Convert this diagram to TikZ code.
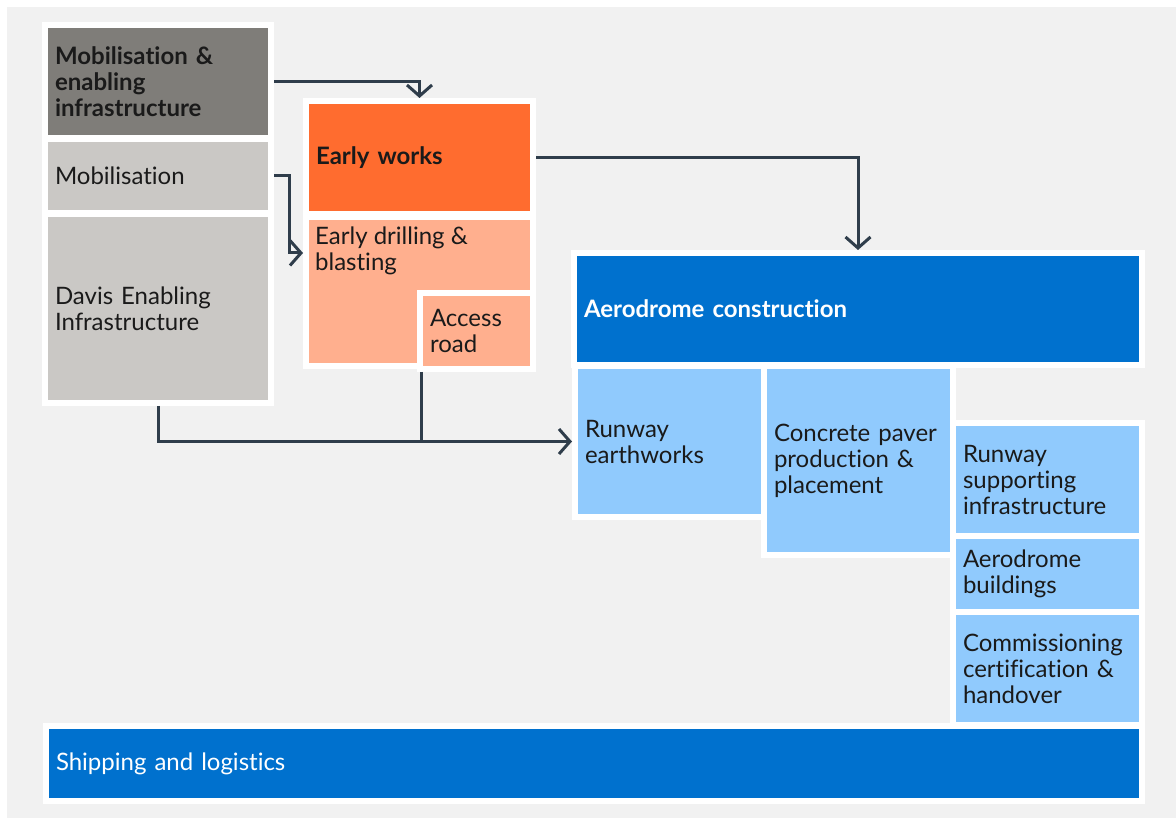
\documentclass[tikz,border=0pt]{standalone}
\usepackage{fontspec}
\setmainfont{Lato}[Ligatures={NoCommon}]
\usetikzlibrary{arrows.meta}
\definecolor{bgrey}{HTML}{F1F1F1}
\definecolor{gdark}{HTML}{7F7D79}
\definecolor{glight}{HTML}{CAC8C5}
\definecolor{orange}{HTML}{FF6C2F}
\definecolor{salmon}{HTML}{FFAF8E}
\definecolor{blue}{HTML}{0071CE}
\definecolor{lblue}{HTML}{90CAFD}
\definecolor{slate}{HTML}{2F3D4B}
\definecolor{ink}{HTML}{1A1A1A}
\tikzset{
    panel/.style={draw=white, line width=6pt, inner xsep=10pt, inner ysep=0pt, align=left,
        font=\fontsize{24}{26}\selectfont},
    linkline/.style={draw=slate, line width=3pt},
    linkarrow/.style={linkline, -{Straight Barb[length=11pt, width=25pt]}},
}
\begin{document}
\begin{tikzpicture}[x=1pt, y=-1pt]
        \useasboundingbox (0,0) rectangle (1176,818);
        \fill[white] (0,0) rectangle (1176,818);
        \fill[bgrey] (7,7) rectangle (1176,818);

        \foreach \n/\xa/\ya/\xb/\yb/\col/\tcol/\txt in {
            mobenab/48/28/268/135/gdark/ink/{\bfseries Mobilisation \&\\enabling\\infrastructure},
            mob/48/142/268/210/glight/ink/{Mobilisation},
            davis/48/217/268/400/glight/ink/{Davis Enabling\\Infrastructure},
            early/309/104/530/211/orange/ink/{\bfseries Early works},
            aero/577/256/1139/362/blue/white/{\bfseries Aerodrome construction},
            runway/578/369/761/514/lblue/ink/{Runway\\earthworks},
            paver/767/369/950/552/lblue/ink/{Concrete paver\\production \&\\placement},
            support/956/426/1139/533/lblue/ink/{Runway\\supporting\\infrastructure},
            build/956/539/1139/609/lblue/ink/{Aerodrome\\buildings},
            comm/956/615/1139/722/lblue/ink/{Commissioning\\certification \&\\handover},
            ship/49/729/1139/798/blue/white/{Shipping and logistics}} {
            \pgfmathsetmacro{\w}{\xb-\xa+6}
            \pgfmathsetmacro{\h}{\yb-\ya+6}
            \pgfmathsetmacro{\tw}{\xb-\xa-14}
            \node[panel, fill=\col, text=\tcol, minimum width=\w pt, minimum height=\h pt,
                text width=\tw pt] (\n) at ({(\xa+\xb)/2}, {(\ya+\yb)/2}) {\txt};
        }
        \node[panel, fill=salmon, minimum width=227pt, minimum height=149pt] (drill) at (419.5, 291.5) {};
        \node[panel, fill=salmon, text=ink, minimum width=113pt, minimum height=76pt,
            text width=93pt] (access) at (476.5, 331) {Access\\road};
        \node[anchor=north west, inner sep=0pt, align=left, text=ink,
            font=\fontsize{24}{26}\selectfont] (drilltext)
            at ([xshift=12pt, yshift=-13pt]drill.north west) {Early drilling \&\\blasting};

        \draw[linkarrow] (mobenab.east) -| (early.north);
        \draw[linkarrow] (mob.east) -- ++(15,0) |- ([yshift=-39pt]drill.north west);
        \draw[linkarrow] (early.east) -| (aero.north);
        \draw[linkarrow] (davis.south) |- (runway.west);
        \coordinate (accfoot) at ([xshift=4pt]access.south west);
        \draw[linkline] (accfoot) -- (accfoot |- runway.west);
    \end{tikzpicture}
\end{document}
